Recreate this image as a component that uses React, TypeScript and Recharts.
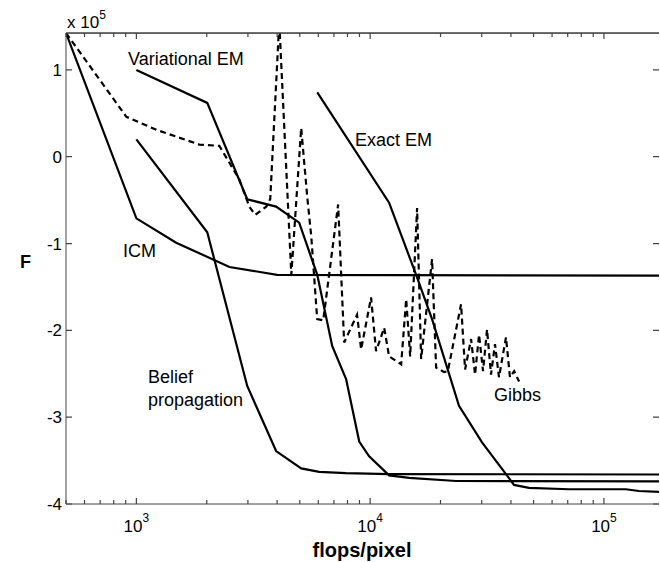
import React from "react";
import { LineChart, Line, XAxis, YAxis, ReferenceLine } from "recharts";

const W = 660;
const H = 562;
const FONT = "'Liberation Sans', Arial, Helvetica, sans-serif";
const AXIS = "#444";
const PLOT_TOP = 33;
const PLOT_LEFT = 66;
const PLOT_RIGHT = 659;

// flops/pixel on x, F in units of 1e5 on y
const icmX = [500, 1000, 1480, 2500, 4000, 172000];
const icmY = [1.425, -0.71, -0.99, -1.27, -1.36, -1.37];

const bpX = [1000, 2010, 2980, 3960, 5070, 6050, 7890, 12050, 172000];
const bpY = [0.2, -0.87, -2.64, -3.39, -3.59, -3.63, -3.645, -3.655, -3.66];

const vemX = [1000, 2010, 2980, 3960, 4970, 5940, 6880, 7890, 8980, 9900, 12050, 14680, 23310, 172000];
const vemY = [1.0, 0.62, -0.49, -0.575, -0.76, -1.36, -2.18, -2.56, -3.28, -3.45, -3.67, -3.7, -3.735, -3.74];

const exactX = [5940, 12050, 15730, 18400, 23990, 30100, 38100, 41250, 47800, 70800, 124000, 141100, 172000];
const exactY = [0.74, -0.53, -1.36, -1.87, -2.87, -3.29, -3.655, -3.78, -3.815, -3.83, -3.83, -3.85, -3.86];

const gibbsX = [
  500, 906, 1218, 1858, 2264, 2755, 3041, 3225, 3594, 3737, 4085, 4600, 5070, 5380, 5600, 5935,
  6300, 7295, 7740, 8790, 9150, 10090, 10600, 11480, 12050, 13570, 14260, 14830, 15880, 16520,
  18400, 19150, 20710, 21500, 24480, 25470, 27020, 28100, 29230, 30400, 31620, 32880, 34200,
  35570, 38110, 39630, 41300, 43350,
];
const gibbsY = [
  1.425, 0.46, 0.31, 0.14, 0.125, -0.26, -0.575, -0.67, -0.575, -0.49, 1.55, -1.36, 0.33, -0.46,
  -0.92, -1.87, -1.885, -0.55, -2.14, -1.82, -2.22, -1.62, -2.24, -1.97, -2.3, -2.39, -1.64, -2.3,
  -0.59, -2.33, -1.18, -2.43, -2.48, -2.47, -1.7, -2.45, -2.1, -2.51, -2.05, -2.47, -1.99, -2.51,
  -2.16, -2.54, -2.08, -2.54, -2.47, -2.59,
];

const xTicks = [
  500, 600, 700, 800, 900, 1000, 2000, 3000, 4000, 5000, 6000, 7000, 8000, 9000, 10000, 20000,
  30000, 40000, 50000, 60000, 70000, 80000, 90000, 100000,
];
const decades = [1000, 10000, 100000];
const yTicks = [-4, -3, -2, -1, 0, 1];
const yTop = 1.425;

const zip = (xs: number[], ys: number[]) => xs.map((x, i) => ({ x, y: ys[i] }));

// bottom ticks, mirrored onto the top edge of the box as well
function BottomTick(props: any) {
  const { x, y, payload } = props;
  const v = payload.value as number;
  const major = decades.includes(v);
  const len = major ? 6 : 4;
  return (
    <g>
      <path
        d={`M${x},${y}V${y - len}M${x},${PLOT_TOP}V${PLOT_TOP + len}`}
        stroke={AXIS}
        strokeWidth={1.2}
        fill="none"
      />
      {major && (
        <text x={x} y={y + 28} textAnchor="middle" fontSize={17} fontFamily={FONT} fill="#000">
          10
          <tspan dy={-10} fontSize={12}>
            {Math.round(Math.log10(v))}
          </tspan>
        </text>
      )}
    </g>
  );
}

// left ticks, mirrored onto the right edge
function LeftTick(props: any) {
  const { x, y, payload } = props;
  return (
    <g>
      <path
        d={`M${x},${y}H${x + 6}M${PLOT_RIGHT},${y}H${PLOT_RIGHT - 6}`}
        stroke={AXIS}
        strokeWidth={1.2}
        fill="none"
      />
      <text x={x - 4} y={y + 6} textAnchor="end" fontSize={17} fontFamily={FONT} fill="#000">
        {payload.value}
      </text>
    </g>
  );
}

export default function App() {
  const line = (xs: number[], ys: number[], dashed = false) => (
    <Line
      data={zip(xs, ys)}
      dataKey="y"
      type="linear"
      dot={false}
      activeDot={false}
      stroke="#000"
      strokeWidth={2.2}
      strokeDasharray={dashed ? "6 4" : undefined}
      isAnimationActive={false}
    />
  );

  return (
    <div
      style={{
        position: "absolute",
        left: 0,
        top: 0,
        width: W,
        height: H,
        background: "#fff",
      }}
    >
      <LineChart
        width={W}
        height={H}
        margin={{ top: PLOT_TOP, right: W - PLOT_RIGHT, bottom: 0, left: 0 }}
      >
        <XAxis
          dataKey="x"
          type="number"
          scale="log"
          domain={[500, 172000]}
          allowDataOverflow
          ticks={xTicks}
          interval={0}
          tickSize={0}
          tickMargin={0}
          height={58}
          stroke={AXIS}
          tick={<BottomTick />}
        />
        <YAxis
          type="number"
          domain={[-4, yTop]}
          allowDataOverflow
          ticks={yTicks}
          interval={0}
          tickSize={0}
          tickMargin={0}
          width={PLOT_LEFT}
          stroke={AXIS}
          tick={<LeftTick />}
        />
        {/* top edge of the axes box */}
        <ReferenceLine y={yTop} stroke={AXIS} strokeWidth={1.2} ifOverflow="visible" />
        {line(icmX, icmY)}
        {line(bpX, bpY)}
        {line(vemX, vemY)}
        {line(exactX, exactY)}
        {line(gibbsX, gibbsY, true)}
      </LineChart>
      <svg
        width={W}
        height={H}
        style={{ position: "absolute", left: 0, top: 0, pointerEvents: "none", zIndex: 5 }}
        fontFamily={FONT}
      >
        <rect x={PLOT_LEFT} y={PLOT_TOP - 0.5} width={PLOT_RIGHT - PLOT_LEFT} height={1.2} fill={AXIS} />
        <text x={67} y={28} fontSize={17}>
          x 10
          <tspan dy={-9} fontSize={12}>5</tspan>
        </text>
        <text x={20} y={268} fontSize={18} fontWeight="bold">F</text>
        <text x={362} y={557} fontSize={20} fontWeight="bold" textAnchor="middle">
          flops/pixel
        </text>
        <text x={128} y={65} fontSize={18}>Variational EM</text>
        <text x={355} y={146} fontSize={18}>Exact EM</text>
        <text x={123} y={257} fontSize={18}>ICM</text>
        <text x={148} y={383} fontSize={18}>Belief</text>
        <text x={148} y={406} fontSize={18}>propagation</text>
        <text x={494} y={401} fontSize={18}>Gibbs</text>
      </svg>
    </div>
  );
}
